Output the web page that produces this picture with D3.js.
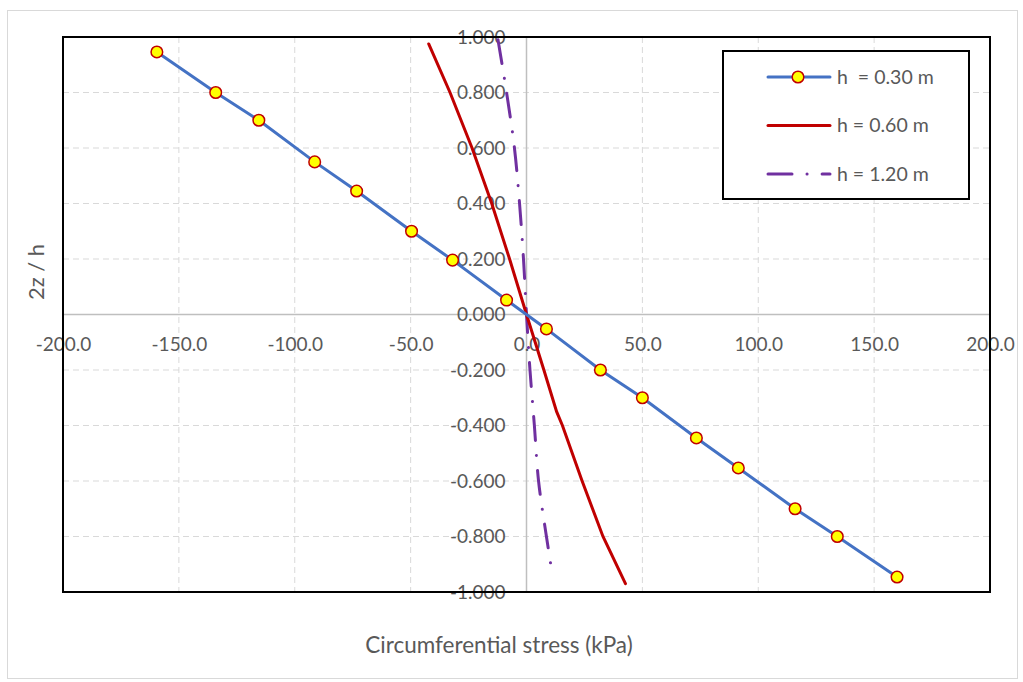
<!DOCTYPE html>
<html>
<head>
<meta charset="utf-8">
<script src="https://cdn.jsdelivr.net/npm/d3@7"></script>
<style>
  body { margin: 0; background: #fff; }
  text { font-family: Lato, "Open Sans", sans-serif; fill: #595959; }
</style>
</head>
<body>
<div id="viz"></div>
<script>
// values
const xTicks = [-200, -150, -100, -50, 0, 50, 100, 150, 200];
const yTicks = [-1, -0.8, -0.6, -0.4, -0.2, 0, 0.2, 0.4, 0.6, 0.8, 1];

const h030_stress = [-159.5, -134.1, -115.5, -91.4, -73.3, -49.6, -31.9, -8.6, 8.6, 31.9, 50.0, 73.3, 91.4, 115.9, 134.1, 159.9];
const h030_z = [0.946, 0.80, 0.70, 0.55, 0.445, 0.30, 0.196, 0.052, -0.052, -0.20, -0.30, -0.445, -0.553, -0.70, -0.80, -0.946];

const h060_stress = [-42.2, -33, -23.5, -15, -7.3, 0, 7.5, 13, 15.5, 24, 33, 42.7];
const h060_z = [0.975, 0.80, 0.60, 0.40, 0.20, 0, -0.20, -0.35, -0.40, -0.60, -0.80, -0.97];

const h120_stress = [-12.3, -8.6, -5.2, -3.0, -1.3, 0, 1.5, 3.4, 5.2, 8.6, 11.2];
const h120_z = [0.99, 0.80, 0.60, 0.40, 0.20, 0, -0.20, -0.40, -0.60, -0.80, -0.94];

const legendLabels = ["h  = 0.30 m", "h = 0.60 m", "h = 1.20 m"];

const width = 1023;
const height = 682;

// plain hyphen for negatives, like the original
const locale = d3.formatLocale({ decimal: ".", thousands: ",", grouping: [3], currency: ["", ""], minus: "-" });

const svg = d3.select("#viz").append("svg")
    .attr("width", width)
    .attr("height", height);

// outer chart frame
svg.append("rect")
    .attr("x", 7.5).attr("y", 10.5)
    .attr("width", 1010).attr("height", 668)
    .attr("fill", "#fff")
    .attr("stroke", "#d9d9d9");

const x = d3.scaleLinear().domain([-200, 200]).range([63, 990]);
const y = d3.scaleLinear().domain([-1, 1]).range([592, 37]);

// grid
svg.append("g").selectAll("line")
    .data(xTicks.filter(d => d !== 0))
    .enter().append("line")
    .attr("x1", d => x(d)).attr("x2", d => x(d))
    .attr("y1", y(1)).attr("y2", y(-1))
    .attr("stroke", "#d9d9d9")
    .attr("stroke-dasharray", "6,4");

svg.append("g").selectAll("line")
    .data(yTicks.filter(d => d !== 0))
    .enter().append("line")
    .attr("y1", d => y(d)).attr("y2", d => y(d))
    .attr("x1", x(-200)).attr("x2", x(200))
    .attr("stroke", "#d9d9d9")
    .attr("stroke-dasharray", "6,4");

// zero lines
svg.append("line")
    .attr("x1", x(0)).attr("x2", x(0))
    .attr("y1", y(1)).attr("y2", y(-1))
    .attr("stroke", "#bfbfbf").attr("stroke-width", 1.5);
svg.append("line")
    .attr("x1", x(-200)).attr("x2", x(200))
    .attr("y1", y(0)).attr("y2", y(0))
    .attr("stroke", "#bfbfbf").attr("stroke-width", 1.5);

// axes with labels along the zero lines
const xAxis = svg.append("g")
    .attr("transform", "translate(0," + y(0) + ")")
    .call(d3.axisBottom(x).tickValues(xTicks).tickSize(0).tickPadding(23).tickFormat(locale.format(".1f")));
xAxis.select(".domain").remove();
xAxis.selectAll("text").attr("font-size", "19px").attr("font-family", null);

const yAxis = svg.append("g")
    .attr("transform", "translate(" + x(0) + ",0)")
    .call(d3.axisLeft(y).tickValues(yTicks).tickSize(0).tickPadding(21).tickFormat(locale.format(".3f")));
yAxis.select(".domain").remove();
yAxis.selectAll("text").attr("font-size", "19px").attr("font-family", null);

// plot frame
svg.append("rect")
    .attr("x", x(-200)).attr("y", y(1))
    .attr("width", x(200) - x(-200)).attr("height", y(-1) - y(1))
    .attr("fill", "none")
    .attr("stroke", "#000")
    .attr("stroke-width", 2);

const line = d3.line()
    .x(d => x(d[0]))
    .y(d => y(d[1]));

const smooth = d3.line()
    .x(d => x(d[0]))
    .y(d => y(d[1]))
    .curve(d3.curveMonotoneY);

const h060 = h060_stress.map((s, i) => [s, h060_z[i]]);
const h120 = h120_stress.map((s, i) => [s, h120_z[i]]);
const h030 = h030_stress.map((s, i) => [s, h030_z[i]]);

svg.append("path")
    .attr("d", smooth(h120))
    .attr("fill", "none")
    .attr("stroke", "#7030a0")
    .attr("stroke-width", 3)
    .attr("stroke-linecap", "round")
    .attr("stroke-dasharray", "24,15,0.1,15");

svg.append("path")
    .attr("d", line(h060))
    .attr("fill", "none")
    .attr("stroke", "#c00000")
    .attr("stroke-width", 3)
    .attr("stroke-linecap", "round");

svg.append("path")
    .attr("d", line(h030))
    .attr("fill", "none")
    .attr("stroke", "#4472c4")
    .attr("stroke-width", 3)
    .attr("stroke-linecap", "round");

svg.append("g").selectAll("circle")
    .data(h030)
    .enter().append("circle")
    .attr("cx", d => x(d[0]))
    .attr("cy", d => y(d[1]))
    .attr("r", 5.8)
    .attr("fill", "#ffff00")
    .attr("stroke", "#c00000")
    .attr("stroke-width", 1.5);

// legend
const legend = svg.append("g");
legend.append("rect")
    .attr("x", 723).attr("y", 51)
    .attr("width", 246).attr("height", 148)
    .attr("fill", "#fff")
    .attr("stroke", "#000")
    .attr("stroke-width", 2);

const legendStyles = [
    { color: "#4472c4", dash: null, marker: true },
    { color: "#c00000", dash: null, marker: false },
    { color: "#7030a0", dash: "24,15,0.1,15", marker: false }
];

legendLabels.forEach((label, i) => {
    const ly = 77 + i * 48.5;
    const st = legendStyles[i];
    legend.append("line")
        .attr("x1", 768).attr("x2", 830)
        .attr("y1", ly).attr("y2", ly)
        .attr("stroke", st.color)
        .attr("stroke-width", 3)
        .attr("stroke-linecap", "round")
        .attr("stroke-dasharray", st.dash);
    if (st.marker) {
        legend.append("circle")
            .attr("cx", 798).attr("cy", ly)
            .attr("r", 5.8)
            .attr("fill", "#ffff00")
            .attr("stroke", "#c00000")
            .attr("stroke-width", 1.5);
    }
    legend.append("text")
        .attr("x", 837).attr("y", ly)
        .attr("dy", "0.35em")
        .attr("font-size", "19.5px")
        .attr("xml:space", "preserve")
        .style("white-space", "pre")
        .text(label);
});

// axis titles
svg.append("text")
    .attr("x", 499).attr("y", 645)
    .attr("text-anchor", "middle")
    .attr("dy", "0.35em")
    .attr("font-size", "22.5px")
    .text("Circumferential stress (kPa)");

svg.append("text")
    .attr("transform", "translate(36,272) rotate(-90)")
    .attr("text-anchor", "middle")
    .attr("dy", "0.35em")
    .attr("font-size", "22px")
    .text("2z / h");
</script>
</body>
</html>
